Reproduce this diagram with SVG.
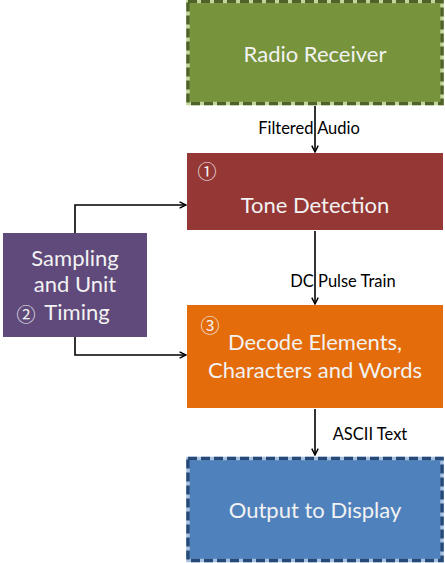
<svg xmlns="http://www.w3.org/2000/svg" width="445" height="563" viewBox="0 0 445 563">
<style>
.lbl{font-family:"Lato","Liberation Sans",sans-serif;font-size:16.5px;fill:#000;text-anchor:middle}
.t{font-family:"Lato","Liberation Sans",sans-serif;font-size:22px;fill:#f2f2f2;text-anchor:middle}
.n{font-family:"Noto Sans CJK JP","DejaVu Sans",sans-serif;font-size:19px;fill:#f2f2f2;text-anchor:middle}
.c{stroke:#000;stroke-width:1.6;fill:none;marker-end:url(#ah)}
</style>
<defs>
<marker id="ah" viewBox="0 0 10 10" refX="9" refY="5" markerWidth="8" markerHeight="8" markerUnits="userSpaceOnUse" orient="auto">
<path d="M1,1 L9,5 L1,9" fill="none" stroke="#000" stroke-width="1.8"/>
</marker>
</defs>
<rect width="445" height="563" fill="#fff"/>
<g id="connectors">
<line class="c" x1="315" y1="106" x2="315" y2="152"/>
<line class="c" x1="315" y1="231" x2="315" y2="304"/>
<line class="c" x1="315" y1="409" x2="315" y2="455"/>
<polyline class="c" points="75,233 75,205 186,205"/>
<polyline class="c" points="75,337 75,355 186,355"/>
<text class="lbl" x="309" y="134">Filtered  Audio</text>
<text class="lbl" x="343" y="287">DC  Pulse Train</text>
<text class="lbl" x="370" y="440">ASCII Text</text>
</g>
<g id="radio-receiver">
<rect x="188" y="1.5" width="254" height="102" fill="#77933c" stroke="#c3d69b" stroke-width="3.5"/>
<rect x="188" y="1.5" width="254" height="102" fill="none" stroke="#4f6228" stroke-width="3.5" stroke-dasharray="9 4"/>
<text class="t" x="315" y="62">Radio Receiver</text>
</g>
<g id="tone-detection">
<rect x="187" y="153" width="256" height="77" fill="#953735"/>
<text class="n" x="207" y="179">①</text>
<text class="t" x="315" y="213">Tone Detection</text>
</g>
<g id="sampling">
<rect x="3" y="233" width="144" height="104" fill="#604a7b"/>
<text class="t" x="75" y="266">Sampling</text>
<text class="t" x="75" y="292">and Unit</text>
<text class="n" x="26" y="322">②</text>
<text class="t" x="77" y="320">Timing</text>
</g>
<g id="decode">
<rect x="187" y="305" width="256" height="103" fill="#e46c0a"/>
<text class="n" x="210" y="333">③</text>
<text class="t" x="315" y="350">Decode Elements,</text>
<text class="t" x="315" y="378">Characters and Words</text>
</g>
<g id="output">
<rect x="188" y="458.5" width="254" height="102" fill="#4f81bd" stroke="#a7c0e0" stroke-width="3.5"/>
<rect x="188" y="458.5" width="254" height="102" fill="none" stroke="#254a7a" stroke-width="3.5" stroke-dasharray="9 4"/>
<text class="t" x="315" y="518">Output to Display</text>
</g>
</svg>
